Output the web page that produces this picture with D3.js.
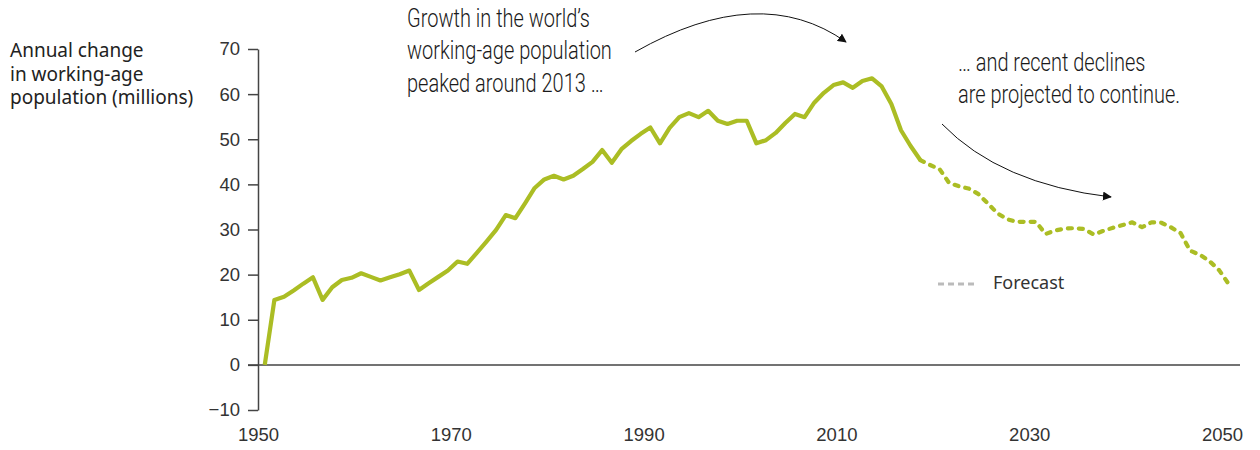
<!DOCTYPE html>
<html>
<head>
<meta charset="utf-8">
<script src="https://cdn.jsdelivr.net/npm/d3@7"></script>
<style>
    body { margin: 0; background: #fff; }
    svg { display: block; }
    .tick text { font-family: 'Liberation Sans', Arial, sans-serif; font-size: 18.5px; fill: #333; }
    .note { font-family: Roboto, 'Liberation Sans', sans-serif; font-weight: 300; font-size: 25px; fill: #1a1a1a; }
    .ytitle { font-family: 'Noto Sans', 'Open Sans', sans-serif; font-size: 19px; fill: #222; }
    .legend { font-family: 'Noto Sans', 'Open Sans', sans-serif; font-size: 18px; fill: #333; }
</style>
</head>
<body>
<div id="chart"></div>
<script>
// data: annual change in working-age population, millions
const years = d3.range(1950, 2051);
const changeM = [
    0, 14.4, 15.1, 16.5, 18.0, 19.4, 14.4, 17.2, 18.8, 19.3,
    20.3, 19.5, 18.7, 19.4, 20.1, 20.9, 16.6, 18.1, 19.5, 20.9,
    22.9, 22.4, 24.8, 27.3, 29.9, 33.2, 32.5, 35.8, 39.2, 41.1,
    41.9, 41.1, 41.9, 43.4, 45.0, 47.6, 44.8, 47.8, 49.6, 51.2,
    52.6, 49.1, 52.5, 54.9, 55.8, 54.9, 56.3, 54.1, 53.4, 54.1,
    54.1, 49.1, 49.8, 51.4, 53.6, 55.6, 54.9, 58.1, 60.3, 62.0,
    62.6, 61.4, 62.9, 63.5, 61.7, 57.8, 52.0, 48.5, 45.4, 44.3,
    43.4, 40.3, 39.6, 39.1, 37.9, 35.8, 33.6, 32.3, 31.7, 31.7,
    31.7, 29.0, 29.8, 30.2, 30.3, 30.1, 28.9, 29.7, 30.4, 31.0,
    31.6, 30.5, 31.6, 31.5, 30.5, 29.2, 25.3, 24.4, 23.0, 21.0,
    17.9,
];
const forecastFrom = 2018;
const yTicks = [-10, 0, 10, 20, 30, 40, 50, 60, 70];
const xTicks = [1950, 1970, 1990, 2010, 2030, 2050];
const yTitle = ['Annual change', 'in working-age', 'population (millions)'];
const note1 = ['Growth in the world’s', 'working-age population', 'peaked around 2013 …'];
const note2 = ['… and recent declines', 'are projected to continue.'];
const legendLabel = 'Forecast';

const W = 1260;
const H = 450;
const LINE_COLOR = '#abbd24';
const AXIS_COLOR = '#444';
const LAG = 0.7; // points sit a little right of the year labels
const NARROW = 0.8; // squeeze for the condensed annotation face

const rows = years.map((yr, i) => ({ yr, v: changeM[i] }));

const svg = d3.select('#chart')
    .append('svg')
    .attr('width', W)
    .attr('height', H);

const x = d3.scaleLinear().domain([1950, 2050]).range([258, 1222]);
const y = d3.scaleLinear().domain([-10, 70]).range([410, 49]);

// y axis
const yAxis = svg.append('g')
    .attr('transform', `translate(${x(1950)},0)`)
    .call(d3.axisLeft(y).tickValues(yTicks).tickSize(10).tickSizeOuter(0).tickPadding(8));
yAxis.select('.domain').attr('stroke', AXIS_COLOR).attr('stroke-width', 1.5);
yAxis.selectAll('.tick line').attr('stroke', AXIS_COLOR).attr('stroke-width', 1.5);

// x axis (labels only)
const xAxis = svg.append('g')
    .attr('transform', 'translate(0,428)')
    .call(d3.axisBottom(x).tickValues(xTicks).tickFormat(d3.format('d')).tickSize(0).tickPadding(0));
xAxis.select('.domain').remove();

// zero line
svg.append('line')
    .attr('x1', x(1950) - 10)
    .attr('x2', 1240)
    .attr('y1', y(0))
    .attr('y2', y(0))
    .attr('stroke', AXIS_COLOR)
    .attr('stroke-width', 1.5);

// lines
const line = d3.line()
    .x(d => x(d.yr + LAG))
    .y(d => y(d.v));

svg.append('path')
    .datum(rows.filter(d => d.yr <= forecastFrom))
    .attr('d', line)
    .attr('fill', 'none')
    .attr('stroke', LINE_COLOR)
    .attr('stroke-width', 4.2)
    .attr('stroke-linejoin', 'round');

svg.append('path')
    .datum(rows.filter(d => d.yr >= forecastFrom))
    .attr('d', line)
    .attr('fill', 'none')
    .attr('stroke', LINE_COLOR)
    .attr('stroke-width', 4.2)
    .attr('stroke-linecap', 'round')
    .attr('stroke-linejoin', 'round')
    .attr('stroke-dasharray', '4,7');

// y title
svg.append('text')
    .attr('class', 'ytitle')
    .selectAll('tspan')
    .data(yTitle)
    .join('tspan')
    .attr('x', 10)
    .attr('y', (d, i) => 57 + i * 23.7)
    .text(d => d);

// annotations
function note(lines, x0, y0) {
    svg.append('text')
        .attr('class', 'note')
        .attr('transform', `translate(${x0},${y0}) scale(${NARROW},1)`)
        .selectAll('tspan')
        .data(lines)
        .join('tspan')
        .attr('x', 0)
        .attr('y', (d, i) => i * 32.3)
        .text(d => d);
}
note(note1, 407, 27);
note(note2, 958, 71);

// arrows
svg.append('defs')
    .append('marker')
    .attr('id', 'head')
    .attr('viewBox', '0 0 10 10')
    .attr('refX', 9)
    .attr('refY', 5)
    .attr('markerWidth', 9)
    .attr('markerHeight', 9)
    .attr('markerUnits', 'userSpaceOnUse')
    .attr('orient', 'auto')
    .append('path')
    .attr('d', 'M0,0L10,5L0,10Z')
    .attr('fill', '#111');

const arrows = [
    'M635,52 Q760,-19 846,42',
    'M942,124 Q1000,184 1111,197',
];
svg.selectAll('.arrow')
    .data(arrows)
    .join('path')
    .attr('class', 'arrow')
    .attr('d', d => d)
    .attr('fill', 'none')
    .attr('stroke', '#111')
    .attr('stroke-width', 1)
    .attr('marker-end', 'url(#head)');

// legend
svg.append('line')
    .attr('x1', 938)
    .attr('x2', 978)
    .attr('y1', 284)
    .attr('y2', 284)
    .attr('stroke', '#bbb')
    .attr('stroke-width', 3)
    .attr('stroke-dasharray', '6,4');
svg.append('text')
    .attr('class', 'legend')
    .attr('x', 993)
    .attr('y', 289)
    .text(legendLabel);
</script>
</body>
</html>
